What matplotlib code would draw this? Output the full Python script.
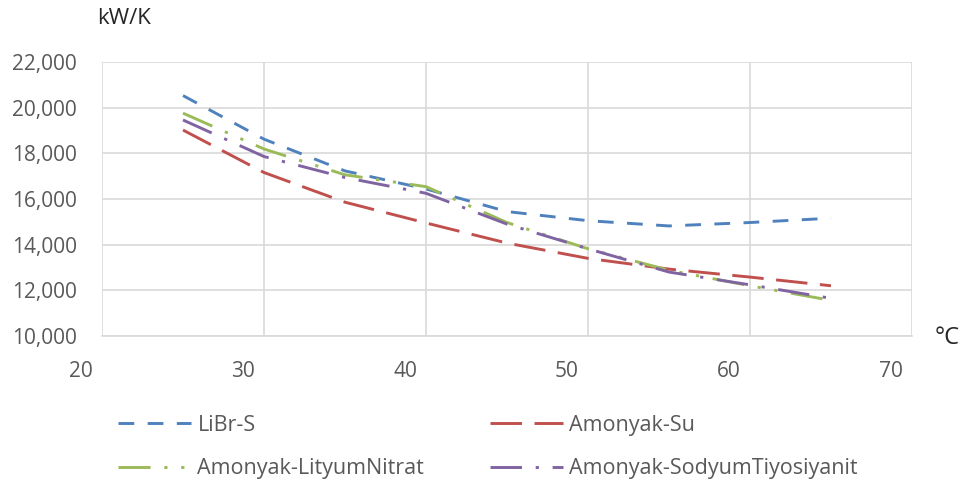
import matplotlib
matplotlib.use("Agg")
import matplotlib.pyplot as plt
import matplotlib.transforms as mtransforms
from matplotlib.ticker import FuncFormatter

plt.rcParams["font.family"] = ["Open Sans", "DejaVu Sans"]

# temperatures (°C) and UA values (kW/K) for each working pair
temps = [25, 30, 35, 40, 45, 50, 55, 60, 65]
libr_s = [20530, 18620, 17230, 16440, 15450, 15050, 14820, 14970, 15160]
amonyak_su = [19020, 17160, 15860, 14950, 14070, 13400, 12930, 12580, 12200]
amonyak_lino3 = [19760, 18190, 17060, 16540, 14970, 13820, 12880, 12200, 11560]
amonyak_nascn = [19460, 17860, 16940, 16250, 14900, 13820, 12800, 12240, 11650]

names = ["LiBr-S", "Amonyak-Su", "Amonyak-LityumNitrat", "Amonyak-SodyumTiyosiyanit"]
colors = ["#4F81BD", "#C0504D", "#9BBB59", "#8064A2"]
styles = [(0, (5.4, 4.6)),
          (0, (10.8, 4.3)),
          (0, (11.0, 4.7, 1.1, 4.7, 1.1, 4.7)),
          (0, (10.8, 4.7, 1.1, 4.7))]

fig = plt.figure(figsize=(9.68, 4.87), dpi=100)
ax = fig.add_axes([102 / 968, 1 - 336 / 487, 810 / 968, 274 / 487])

series = [libr_s, amonyak_su, amonyak_lino3, amonyak_nascn]
handles = []
for vals, name, c, ls in zip(series, names, colors, styles):
    line, = ax.plot(temps, vals, color=c, linestyle=ls, linewidth=2.1,
                    dash_capstyle="butt", label=name)
    handles.append(line)

ax.set_xlim(20, 70)
ax.set_ylim(10000, 22000)
ax.set_xticks(range(20, 71, 10))
ax.set_yticks(range(10000, 22001, 2000))
ax.yaxis.set_major_formatter(FuncFormatter(lambda v, p: f"{int(v):,}"))

ax.grid(True, color="#D9D9D9", linewidth=1.2)
ax.set_axisbelow(True)
for s in ["top", "right", "left"]:
    ax.spines[s].set_visible(False)
ax.spines["bottom"].set_color("#D9D9D9")
ax.spines["bottom"].set_linewidth(1.2)
ax.tick_params(length=0, colors="#595959", labelsize=15)
ax.tick_params(axis="x", pad=18)
ax.tick_params(axis="y", pad=18)

# x labels sit a bit left of their gridlines
shift = mtransforms.ScaledTranslation(-21 / 100, 0, fig.dpi_scale_trans)
for lbl in ax.get_xticklabels():
    lbl.set_transform(lbl.get_transform() + shift)

fig.text(97 / 968, 1 - 18 / 487, "kW/K", fontsize=16, color="#262626", va="center")
fig.text(935 / 968, 1 - 338 / 487, "°C", fontsize=17, color="#262626", va="center")

# legend filled row by row: two series per row
order = [0, 2, 1, 3]
fig.legend([handles[i] for i in order], [names[i] for i in order],
           loc="upper left", bbox_to_anchor=(107 / 968, 1 - 404 / 487), ncol=2,
           frameon=False, fontsize=15.5, handlelength=3.4, handletextpad=0.3,
           columnspacing=3.05, labelspacing=1.05, borderpad=0,
           labelcolor="#595959")

fig.savefig("out.png", dpi=100)
